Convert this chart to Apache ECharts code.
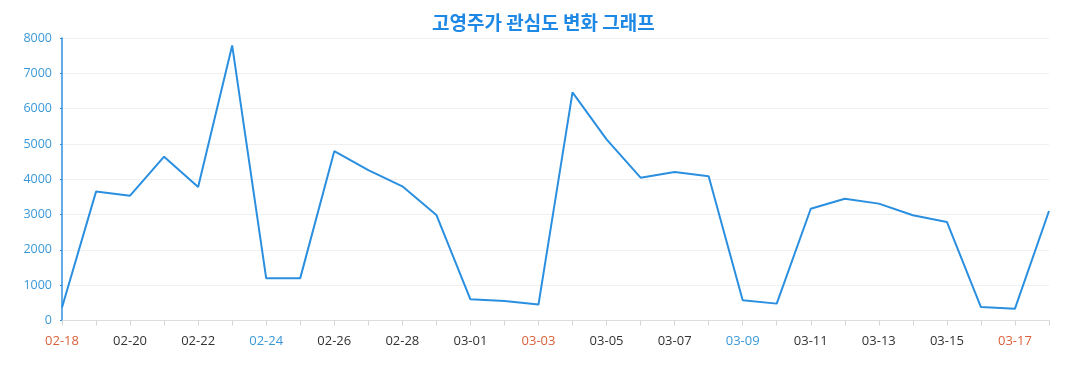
<!DOCTYPE html>
<html><head><meta charset="utf-8">
<script src="https://cdn.jsdelivr.net/npm/echarts@6/dist/echarts.min.js"></script>
<style>html,body{margin:0;padding:0;background:#fff}#c{width:1077px;height:390px}</style>
</head><body><div id="c"></div>
<script>
const titleText = '고영주가 관심도 변화 그래프';
const categories = ['02-18','02-19','02-20','02-21','02-22','02-23','02-24','02-25','02-26','02-27','02-28','02-29',
  '03-01','03-02','03-03','03-04','03-05','03-06','03-07','03-08','03-09','03-10','03-11','03-12','03-13','03-14','03-15','03-16','03-17','03-18'];
const values = [370,3650,3535,4640,3780,7790,1195,1200,4795,4260,3800,2990,
  600,555,450,6460,5130,4045,4205,4085,572,478,3165,3450,3310,2980,2790,380,335,3100];
const sundays = ['02-18','02-25','03-03','03-10','03-17'];
const saturdays = ['02-24','03-02','03-09','03-16'];

const chart = echarts.init(document.getElementById('c'));
chart.setOption({
  animation:false,
  title:{text:titleText,left:427,top:8,textStyle:{color:'#1e88e5',fontSize:19,fontWeight:'bold',fontFamily:'Noto Sans CJK KR'}},
  grid:{left:62,right:28,top:38,bottom:69.5},
  xAxis:{type:'category',boundaryGap:false,data:categories,
    axisLine:{lineStyle:{color:'#dddddd'}},
    axisTick:{show:true,interval:0,length:5,lineStyle:{color:'#d5d5d5'}},
    axisLabel:{interval:1,margin:14,fontSize:13,fontFamily:'Open Sans',
      color:function(v){return sundays.indexOf(v)>=0?'#d9603b':(saturdays.indexOf(v)>=0?'#3a98d8':'#333333');}}},
  yAxis:{type:'value',min:0,max:8000,interval:1000,
    axisLine:{show:true,lineStyle:{color:'#2b8fe0',width:1.5}},
    axisTick:{show:true,length:2,lineStyle:{color:'#2b8fe0'}},
    axisLabel:{color:'#3a98d8',fontSize:12.5,fontFamily:'Open Sans',margin:10,formatter:function(v){return String(v);}},
    splitLine:{lineStyle:{color:'#f0f0f0'}}},
  series:[{type:'line',data:values,symbol:'none',lineStyle:{color:'#2b8fe0',width:2}}]
});
</script></body></html>
